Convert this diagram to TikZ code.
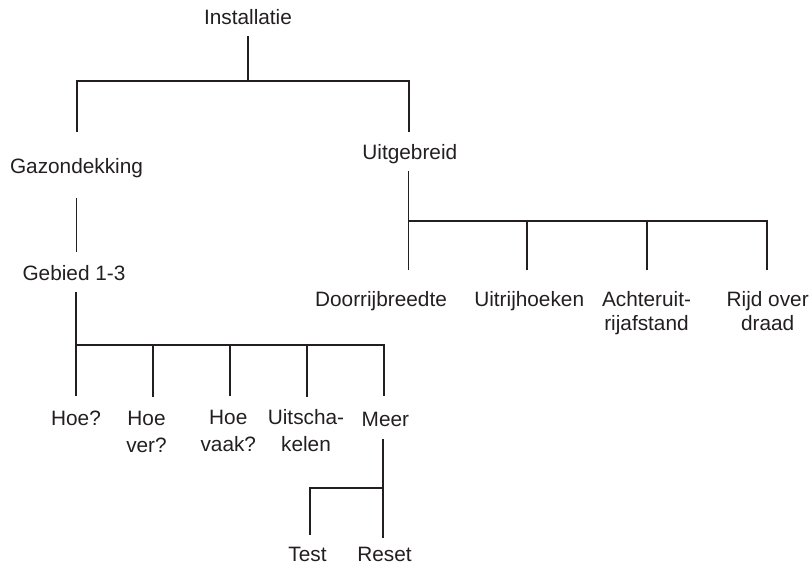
\documentclass[tikz,border=0pt]{standalone}
\usepackage{fontspec}
\setmainfont{Liberation Sans}
\definecolor{ink}{RGB}{35,31,32}
\begin{document}
\begin{tikzpicture}[x=1pt,y=-1pt,
  lbl/.style={anchor=north,inner sep=0pt,align=center,text=ink,font=\fontsize{20.8}{23.3}\selectfont},
  lbll/.style={lbl,font=\fontsize{20.8}{26.7}\selectfont},
  wire/.style={draw=ink,line width=1.8pt}]
\useasboundingbox (0,0) rectangle (812,565);
% labels
\node[lbl] (inst) at (248,9.3) {Installatie};
\node[lbl] (gaz) at (76.5,158) {Gazondekking};
\node[lbl] (uit) at (409.8,144) {Uitgebreid};
\node[lbl] (geb) at (74,265) {Gebied 1-3};
\node[lbl] (door) at (381,291.5) {Doorrijbreedte};
\node[lbl] (uitr) at (529.2,291.5) {Uitrijhoeken};
\node[lbl] (acht) at (646.5,291.5) {Achteruit-\\rijafstand};
\node[lbl] (rijd) at (767.7,291.5) {Rijd over\\draad};
\node[lbll] (hoe) at (76,411) {Hoe?};
\node[lbll] (hoever) at (146.5,411) {Hoe\\ver?};
\node[lbll] (hoevaak) at (228.3,410) {Hoe\\vaak?};
\node[lbll] (uitsch) at (306,409.5) {Uitscha-\\kelen};
\node[lbll] (meer) at (385.4,411.7) {Meer};
\node[lbl] (test) at (307.5,547) {Test};
\node[lbl] (reset) at (384.5,547) {Reset};
% junction coordinates
\coordinate (inst-b) at (248,36);
\coordinate (bus1) at (248,81);
\coordinate (gaz-t) at (77,132);
\coordinate (uit-t) at (409,132);
\coordinate (gaz-b) at (76.5,198);
\coordinate (geb-t) at (76.5,252);
\coordinate (geb-b) at (76,292);
\coordinate (bus2) at (76,345);
\coordinate (hoe-t) at (76,396);
\coordinate (hoever-t) at (153,397);
\coordinate (hoevaak-t) at (230,396);
\coordinate (uitsch-t) at (307,397);
\coordinate (meer-t) at (384,396);
\coordinate (uit-b) at (408.5,171);
\coordinate (bus3) at (408.5,221);
\coordinate (door-t) at (408.5,270);
\coordinate (uitr-t) at (527,270);
\coordinate (acht-t) at (647,270);
\coordinate (rijd-t) at (767,270);
\coordinate (meer-b) at (383,439);
\coordinate (bus4) at (383,488);
\coordinate (reset-t) at (383,538);
\coordinate (test-t) at (310,535);
% connectors
\draw[wire] (inst-b) -- (bus1);
\draw[wire] (gaz-t) |- (bus1) -| (uit-t);
\draw[wire] (gaz-b) -- (geb-t);
\draw[wire] (geb-b) -- (hoe-t);
\draw[wire] (hoe-t) |- (bus2) -| (meer-t);
\draw[wire] (hoever-t) -- (hoever-t |- bus2);
\draw[wire] (hoevaak-t) -- (hoevaak-t |- bus2);
\draw[wire] (uitsch-t) -- (uitsch-t |- bus2);
\draw[wire] (uit-b) -- (door-t);
\draw[wire] (bus3) -| (rijd-t);
\draw[wire] (uitr-t) -- (uitr-t |- bus3);
\draw[wire] (acht-t) -- (acht-t |- bus3);
\draw[wire] (meer-b) -- (reset-t);
\draw[wire] (bus4) -| (test-t);
\end{tikzpicture}
\end{document}
